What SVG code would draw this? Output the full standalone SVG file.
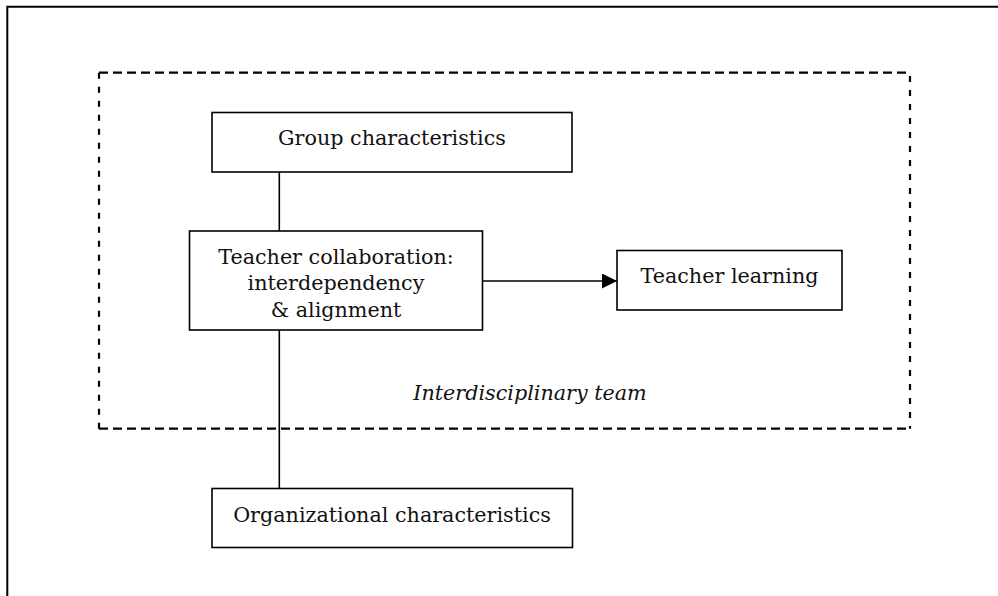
<svg xmlns="http://www.w3.org/2000/svg" width="998" height="596" viewBox="0 0 998 596">
  <defs>
    <style>
      .box { fill: #fff; stroke: #000; stroke-width: 1.6; }
      .lbl { font-family: "DejaVu Serif", "Liberation Serif", serif; font-size: 20.7px; fill: #111; text-anchor: middle; }
      .it { font-style: italic; }
      .conn { stroke: #000; stroke-width: 1.6; fill: none; }
      .dh { stroke: #000; stroke-width: 2.2; fill: none; stroke-dasharray: 9 5; }
      .dv { stroke: #000; stroke-width: 2.2; fill: none; stroke-dasharray: 6 8; }
    </style>
    <marker id="arrow" markerWidth="15" markerHeight="15" refX="15" refY="7.5" orient="auto" markerUnits="userSpaceOnUse">
      <path d="M0,0 L15,7.5 L0,15 Z" fill="#000"/>
    </marker>
  </defs>
  <rect width="998" height="596" fill="#fff"/>

  <!-- outer frame (cropped) -->
  <path d="M7.3,596 V6.8 H998" fill="none" stroke="#000" stroke-width="2"/>

  <!-- interdisciplinary team container -->
  <g id="team">
    <line class="dh" x1="99" y1="72.7" x2="910" y2="72.7"/>
    <line class="dh" x1="99" y1="428.7" x2="910" y2="428.7"/>
    <line class="dv" x1="99" y1="72.7" x2="99" y2="428.7"/>
    <line class="dv" x1="910" y1="76" x2="910" y2="428.7"/>
    <text class="lbl it" x="530" y="400">Interdisciplinary team</text>
  </g>

  <g id="connectors">
    <line class="conn" x1="279.3" y1="172" x2="279.3" y2="231"/>
    <line class="conn" x1="279.3" y1="330" x2="279.3" y2="488.5"/>
    <line class="conn" x1="482.5" y1="281" x2="617" y2="281" marker-end="url(#arrow)"/>
  </g>

  <g id="group">
    <rect class="box" x="212" y="112.5" width="360" height="59.5"/>
    <text class="lbl" x="392" y="145">Group characteristics</text>
  </g>

  <g id="collab">
    <rect class="box" x="189.5" y="231" width="293" height="99"/>
    <text class="lbl" x="336" y="263.5">Teacher collaboration:</text>
    <text class="lbl" x="336" y="290">interdependency</text>
    <text class="lbl" x="336" y="316.5">&amp; alignment</text>
  </g>

  <g id="learning">
    <rect class="box" x="617" y="250.5" width="225" height="59.5"/>
    <text class="lbl" x="729.5" y="283.3">Teacher learning</text>
  </g>

  <g id="org">
    <rect class="box" x="212" y="488.5" width="360.5" height="59"/>
    <text class="lbl" x="392" y="521.7">Organizational characteristics</text>
  </g>
</svg>
